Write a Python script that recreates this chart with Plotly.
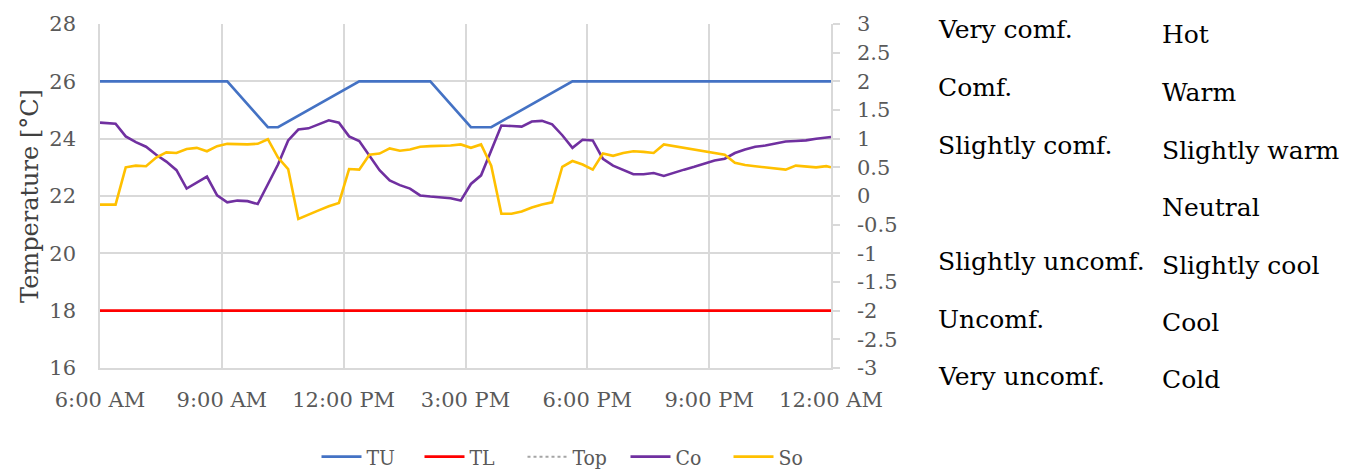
import plotly.graph_objects as go

# ---------------- data ----------------
times = ["06:00", "06:23", "06:38", "06:53", "07:08", "07:23", "07:38", "07:53",
         "08:08", "08:23", "08:38", "08:53", "09:08", "09:23", "09:38", "09:53",
         "10:08", "10:23", "10:38", "10:53", "11:08", "11:23", "11:38", "11:53",
         "12:08", "12:23", "12:38", "12:53", "13:08", "13:23", "13:38", "13:53",
         "14:08", "14:23", "14:38", "14:53", "15:08", "15:23", "15:38", "15:53",
         "16:08", "16:23", "16:38", "16:53", "17:08", "17:23", "17:38", "17:53",
         "18:08", "18:23", "18:38", "18:53", "19:08", "19:23", "19:38", "19:53",
         "20:08", "20:23", "20:38", "20:53", "21:08", "21:23", "21:38", "21:53",
         "22:08", "22:23", "22:38", "22:53", "23:08", "23:23", "23:38", "23:53",
         "24:00"]

# Comfort vote (right axis, -3..3)
co = [1.28, 1.26, 1.04, 0.94, 0.86, 0.72, 0.60, 0.45, 0.13, 0.24, 0.34, 0.01,
      -0.11, -0.08, -0.09, -0.14, 0.21, 0.55, 0.97, 1.16, 1.18, 1.25, 1.32, 1.28,
      1.04, 0.96, 0.71, 0.45, 0.27, 0.19, 0.13, 0.01, -0.01, -0.03, -0.04, -0.08,
      0.21, 0.36, 0.80, 1.23, 1.22, 1.21, 1.30, 1.31, 1.25, 1.06, 0.84, 0.98,
      0.97, 0.65, 0.53, 0.45, 0.38, 0.38, 0.40, 0.35, 0.41, 0.46, 0.51, 0.56,
      0.62, 0.65, 0.75, 0.81, 0.86, 0.88, 0.91, 0.95, 0.96, 0.97, 1.00, 1.02,
      1.03]

# Sensation vote (right axis, -3..3)
so = [-0.15, -0.15, 0.50, 0.53, 0.52, 0.67, 0.76, 0.75, 0.82, 0.84, 0.78, 0.87,
      0.91, 0.90, 0.90, 0.91, 0.99, 0.67, 0.47, -0.40, -0.32, -0.25, -0.18, -0.12,
      0.47, 0.46, 0.72, 0.74, 0.83, 0.79, 0.81, 0.86, 0.87, 0.87, 0.88, 0.90,
      0.84, 0.90, 0.53, -0.31, -0.31, -0.27, -0.20, -0.15, -0.11, 0.51, 0.61, 0.55,
      0.46, 0.74, 0.70, 0.75, 0.78, 0.77, 0.75, 0.90, 0.87, 0.84, 0.81, 0.77,
      0.74, 0.72, 0.58, 0.54, 0.52, 0.50, 0.49, 0.46, 0.53, 0.52, 0.50, 0.52,
      0.50]

# Upper temperature limit (breakpoints)
tu_times = ["06:00", "09:08", "10:08", "10:23", "12:23", "14:08", "15:08", "15:38", "17:38", "24:00"]
tu = [26, 26, 24.4, 24.4, 26, 26, 24.4, 24.4, 26, 26]

# Lower temperature limit
tl_times = ["06:00", "24:00"]
tl = [18, 18]

x_tick_times = ["06:00", "09:00", "12:00", "15:00", "18:00", "21:00", "24:00"]
x_tick_labels = ["6:00 AM", "9:00 AM", "12:00 PM", "3:00 PM", "6:00 PM", "9:00 PM", "12:00 AM"]

y2_ticks = [3, 2.5, 2, 1.5, 1, 0.5, 0, -0.5, -1, -1.5, -2, -2.5, -3]

comfort_labels = ["Very comf.", "Comf.", "Slightly comf.", "", "Slightly uncomf.", "Uncomf.", "Very uncomf."]
sensation_labels = ["Hot", "Warm", "Slightly warm", "Neutral", "Slightly cool", "Cool", "Cold"]


def to_dt(t):
    h, m = t.split(":")
    if h == "24":
        return "2020-01-02 00:%s" % m
    return "2020-01-01 %s:%s" % (h, m)


x = [to_dt(t) for t in times]

# ---------------- figure ----------------
TICKFONT = dict(family="DejaVu Serif", size=21, color="#595959")
GRID = "#d9d9d9"

fig = go.Figure()
fig.add_trace(go.Scatter(x=[to_dt(t) for t in tu_times], y=tu, name="TU", mode="lines",
                         line=dict(color="#4472C4", width=2.6)))
fig.add_trace(go.Scatter(x=[to_dt(t) for t in tl_times], y=tl, name="TL", mode="lines",
                         line=dict(color="#FF0000", width=2.6)))
fig.add_trace(go.Scatter(x=[None], y=[None], name="Top", mode="lines",
                         line=dict(color="#A5A5A5", width=2, dash="dot")))
fig.add_trace(go.Scatter(x=x, y=co, name="Co", mode="lines", yaxis="y2",
                         line=dict(color="#7030A0", width=2.6)))
fig.add_trace(go.Scatter(x=x, y=so, name="So", mode="lines", yaxis="y2",
                         line=dict(color="#FFC000", width=2.6)))

OFF = 8  # page body margin
W, H = 1350 - OFF, 470 - OFF
PL, PR, PT, PB = 100, 831, 24, 368  # plot area in page pixels
L, T = PL - OFF, PT - OFF
R, B = W - (PR - OFF), H - (PB - OFF)
pw, ph = PR - PL, PB - PT


def px(xp):
    return (xp - PL) / pw


def py(yp):
    return (PB - yp) / ph


annotations = []
left_y = [29, 87, 145, 203, 261, 319, 376]
right_y = [34, 92, 150, 207, 265, 322, 379]
ANNFONT = dict(family="DejaVu Serif", size=25, color="#000000")
for lab, yp in zip(comfort_labels, left_y):
    if lab:
        annotations.append(dict(text=lab, xref="paper", yref="paper",
                                x=px(936), y=py(yp),
                                xanchor="left", yanchor="middle", showarrow=False,
                                font=ANNFONT))
for lab, yp in zip(sensation_labels, right_y):
    annotations.append(dict(text=lab, xref="paper", yref="paper",
                            x=px(1160), y=py(yp),
                            xanchor="left", yanchor="middle", showarrow=False,
                            font=ANNFONT))

fig.update_layout(
    width=W, height=H,
    margin=dict(l=L, r=R, t=T, b=B, autoexpand=False),
    paper_bgcolor="white", plot_bgcolor="white",
    showlegend=True,
    legend=dict(orientation="h", x=px(574), xanchor="center",
                y=py(457), yanchor="middle",
                font=dict(family="DejaVu Serif Condensed, DejaVu Serif", size=21, color="#595959"),
                entrywidth=48, entrywidthmode="pixels", itemwidth=40),
    xaxis=dict(type="date", range=[to_dt("06:00"), to_dt("24:00")],
               tickvals=[to_dt(t) for t in x_tick_times], ticktext=x_tick_labels,
               showgrid=True, gridcolor=GRID, gridwidth=1.6,
               showline=True, linecolor=GRID, linewidth=1.6,
               ticks="", ticklabelstandoff=12, tickfont=TICKFONT, zeroline=False),
    yaxis=dict(range=[16, 28], dtick=2, tick0=16,
               showgrid=True, gridcolor=GRID, gridwidth=1.6,
               showline=True, linecolor=GRID, linewidth=1.6,
               ticks="", ticklabelstandoff=18, tickfont=TICKFONT, zeroline=False,
               title=dict(text="Temperature [°C]", standoff=4,
                          font=dict(family="DejaVu Serif", size=24, color="#404040"))),
    yaxis2=dict(range=[-3, 3], overlaying="y", side="right",
                tickvals=y2_ticks, ticktext=[("%g" % v) for v in y2_ticks],
                showgrid=False, zeroline=False,
                showline=True, linecolor=GRID, linewidth=1.6,
                ticks="outside", ticklen=7, tickcolor=GRID, tickwidth=1.6,
                ticklabelstandoff=13, tickfont=TICKFONT),
    annotations=annotations,
)

fig.write_html("out.html")
